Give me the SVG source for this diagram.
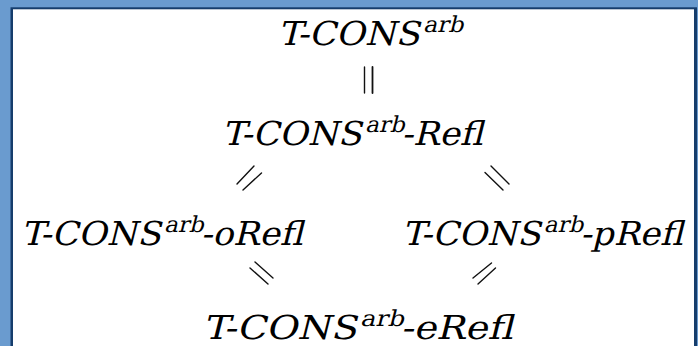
<svg xmlns="http://www.w3.org/2000/svg" width="698" height="346" viewBox="0 0 698 346">
<style>
text{font-family:"DejaVu Serif","Noto Serif",FreeSerif,"Liberation Serif",serif;font-size:33px;fill:#000}
.s{font-size:22px}
.c line{stroke:#111;stroke-width:1.4;stroke-linecap:round}
</style>
<rect x="0" y="0" width="698" height="346" fill="#6a9bcf"/>
<rect x="10.5" y="7.3" width="686.5" height="345" fill="#163d6c"/>
<rect x="13" y="9.3" width="681" height="345" fill="#fff"/>
<g id="n1" transform="translate(278,45) skewX(-14)"><text x="0" y="0" textLength="182" lengthAdjust="spacingAndGlyphs">T-CONS<tspan class="s" dy="-13">arb</tspan></text></g>
<g id="n2" transform="translate(222,145) skewX(-14)"><text x="0" y="0" textLength="261" lengthAdjust="spacingAndGlyphs">T-CONS<tspan class="s" dy="-13">arb</tspan><tspan dy="13">-Refl</tspan></text></g>
<g id="n3" transform="translate(21,245) skewX(-14)"><text x="0" y="0" textLength="282" lengthAdjust="spacingAndGlyphs">T-CONS<tspan class="s" dy="-13">arb</tspan><tspan dy="13">-oRefl</tspan></text></g>
<g id="n4" transform="translate(402,245) skewX(-14)"><text x="0" y="0" textLength="281" lengthAdjust="spacingAndGlyphs">T-CONS<tspan class="s" dy="-13">arb</tspan><tspan dy="13">-pRefl</tspan></text></g>
<g id="n5" transform="translate(203,339) skewX(-14)"><text x="0" y="0" textLength="310" lengthAdjust="spacingAndGlyphs">T-CONS<tspan class="s" dy="-13">arb</tspan><tspan dy="13">-eRefl</tspan></text></g>
<g id="connectors" class="c">
<line x1="364.5" y1="67" x2="364.5" y2="93"/>
<line x1="372.5" y1="67" x2="372.5" y2="93" style="stroke-width:1.8"/>
<line x1="237" y1="184" x2="254" y2="166"/>
<line x1="243" y1="190" x2="261.5" y2="173"/>
<line x1="491" y1="166" x2="509" y2="184"/>
<line x1="485" y1="172.5" x2="503" y2="190"/>
<line x1="255" y1="262" x2="273" y2="278"/>
<line x1="250" y1="268" x2="268" y2="284"/>
<line x1="473" y1="278" x2="491.5" y2="263"/>
<line x1="478" y1="284" x2="495.5" y2="268"/>
</g>
</svg>
